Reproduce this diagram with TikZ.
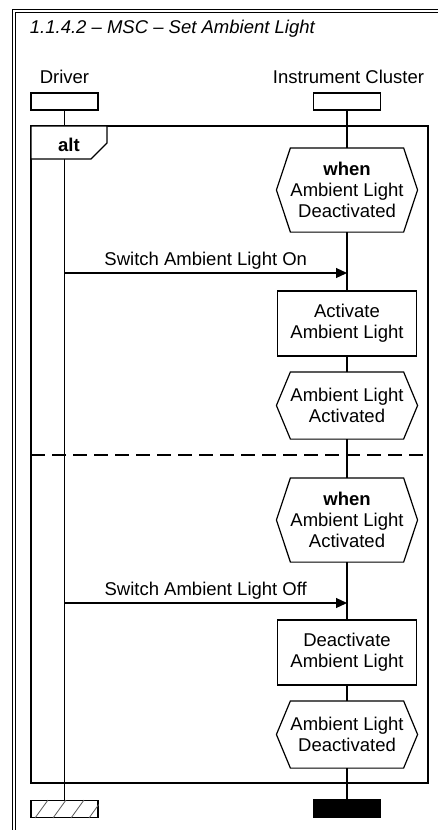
\documentclass[tikz,border=0pt]{standalone}
\usepackage{fontspec}
\setmainfont{Liberation Sans}
\usepackage{tikz}
\usetikzlibrary{arrows.meta,shapes}

\newcommand{\msctext}{\fontsize{18.5}{21.3}\selectfont}

\begin{document}
\begin{tikzpicture}[x=1pt,y=-1pt,line width=1.2pt,
  every node/.style={font=\msctext},
  head node/.style={rectangle,draw,minimum width=67pt,minimum height=17pt,inner sep=0pt},
  cond node/.style={rectangle,minimum width=140pt,minimum height=83pt,align=center,inner sep=0pt},
  action node/.style={rectangle,draw,fill=white,minimum width=139pt,minimum height=65pt,align=center,inner sep=0pt},
  msg line/.style={-{Triangle[length=11pt,width=10pt]}}]

\useasboundingbox (0,0) rectangle (438,830);

% outer frame
\draw[double,line width=1pt,double distance=2pt] (14,900) -- (14,11) -- (500,11);
\node[anchor=base west,font=\msctext\itshape] (title) at (26,33) {1.1.4.2 – MSC – Set Ambient Light};

% instances
\node[anchor=base] (drvName) at (64.5,83) {Driver};
\node[anchor=base] (icName) at (348.5,83) {Instrument Cluster};
\node[head node] (drvHead) at (64.5,101.5) {};
\node[head node] (icHead) at (347,101.5) {};
\node[head node] (drvEnd) at (64.5,809) {};
\node[head node,fill=black] (icEnd) at (347,808.5) {};

% alt frame
\coordinate (altNW) at (31,126);
\coordinate (altSE) at (428,783);
\draw (altNW) rectangle (altSE);
\draw (drvHead) -- (drvEnd);
\draw[fill=white] (altNW) -- (107,126) -- (107,143) -- (91,159) -- (31,159) -- cycle;
\node[anchor=base,font=\msctext\bfseries] (altLabel) at (69,151) {alt};
\draw[dash pattern=on 14pt off 7pt] (31,455) -- (428,455);

% instrument cluster
\node[cond node] (cond1) at (347,190) {\textbf{when}\\Ambient Light\\Deactivated};
\node[action node] (act1) at (347,323.5) {Activate\\Ambient Light};
\node[cond node,minimum height=66pt] (cond2) at (347,405.5) {Ambient Light\\Activated};
\node[cond node] (cond3) at (347,520) {\textbf{when}\\Ambient Light\\Activated};
\node[action node] (act2) at (347,652.5) {Deactivate\\Ambient Light};
\node[cond node,minimum height=66pt] (cond4) at (347,734.5) {Ambient Light\\Deactivated};

\foreach \c in {cond1,cond2,cond3,cond4}
  \draw (\c.west) -- ([xshift=14pt]\c.north west) -- ([xshift=-14pt]\c.north east)
    -- (\c.east) -- ([xshift=-14pt]\c.south east) -- ([xshift=14pt]\c.south west) -- cycle;

\draw (icHead) -- (cond1);
\draw (cond1) -- (act1);
\draw (act1) -- (cond2);
\draw (cond2) -- (cond3);
\draw (cond3) -- (act2);
\draw (act2) -- (cond4);
\draw (cond4) -- (icEnd);

% messages
\coordinate (on1) at (64.5,273);
\coordinate (on2) at (347,273);
\coordinate (off1) at (64.5,603);
\coordinate (off2) at (347,603);
\draw[msg line] (on1) -- node[above] {Switch Ambient Light On} (on2);
\draw[msg line] (off1) -- node[above] {Switch Ambient Light Off} (off2);

% hatched end
\begin{scope}
  \clip (drvEnd.south west) rectangle (drvEnd.north east);
  \foreach \k in {0,...,3}
    \draw[line width=0.8pt,gray!70!black] (35+18*\k,818) -- (48+18*\k,800);
\end{scope}

\end{tikzpicture}
\end{document}
